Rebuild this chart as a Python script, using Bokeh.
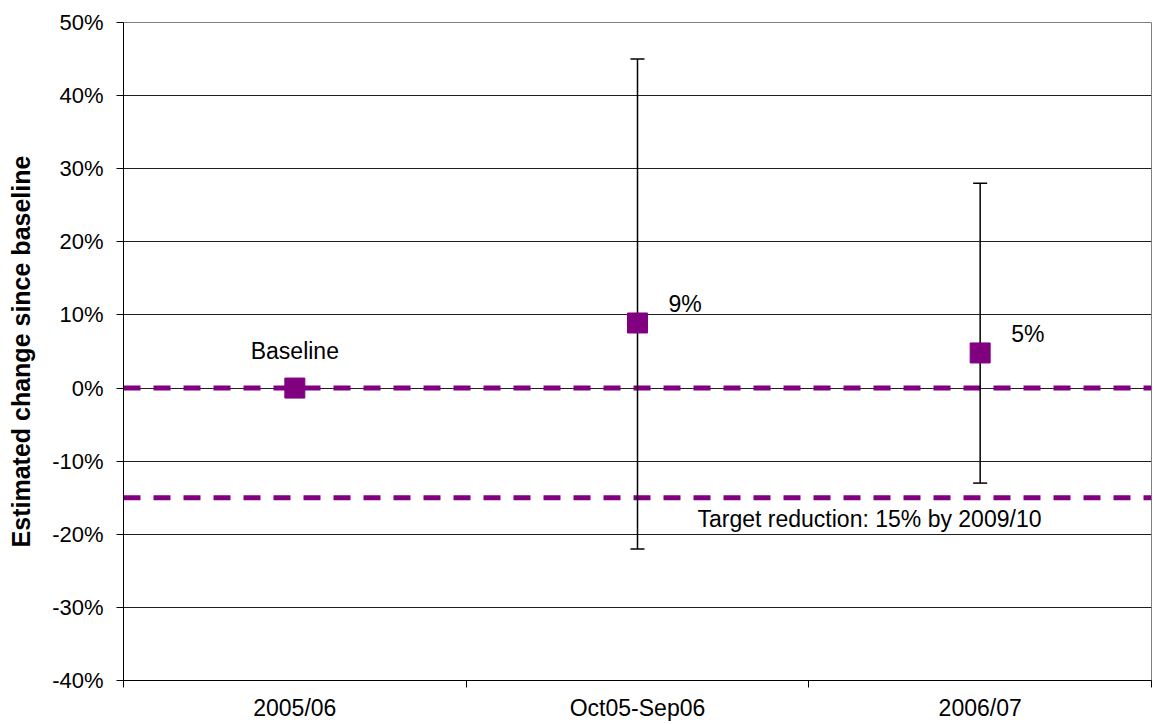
from bokeh.plotting import figure
from bokeh.models import Range1d, FixedTicker, Span, Whisker, ColumnDataSource, TeeHead
from bokeh.core.properties import value
from bokeh.embed import file_html
from bokeh.resources import INLINE

# ---- data ----
categories = ["2005/06", "Oct05-Sep06", "2006/07"]
estimates = [0.0, 8.9, 4.8]
point_labels = ["Baseline", "9%", "5%"]
err_categories = ["Oct05-Sep06", "2006/07"]
err_upper = [45.0, 28.0]
err_lower = [-22.0, -13.0]
target_value = -15.0
target_label = "Target reduction: 15% by 2009/10"
y_ticks = [-40, -30, -20, -10, 0, 10, 20, 30, 40, 50]

PURPLE = "#800080"
FONT = "Liberation Sans"

xpos = [i + 0.5 for i in range(len(categories))]
err_x = [categories.index(c) + 0.5 for c in err_categories]

p = figure(width=1153, height=724, output_backend="svg", toolbar_location=None,
           x_range=Range1d(0, len(categories)), y_range=Range1d(y_ticks[0], y_ticks[-1]),
           min_border_left=123, min_border_right=2, min_border_top=22, min_border_bottom=44)
p.background_fill_color = "white"
p.border_fill_color = "white"
p.outline_line_color = "#808080"
p.outline_line_width = 1

# grid
p.xgrid.visible = False
p.ygrid.grid_line_color = "#202020"
p.ygrid.grid_line_width = 1
p.ygrid.ticker = FixedTicker(ticks=y_ticks)

# y axis
p.yaxis.ticker = FixedTicker(ticks=y_ticks)
p.yaxis.major_label_overrides = {t: f"{t}%" for t in y_ticks}
p.yaxis.major_label_text_font = FONT
p.yaxis.major_label_text_font_size = "22px"
p.yaxis.major_label_text_color = "black"
p.yaxis.major_tick_out = 7
p.yaxis.major_tick_in = 0
p.yaxis.minor_tick_line_color = None
p.yaxis.axis_line_color = "black"
p.yaxis.major_tick_line_color = "black"
p.yaxis.major_label_standoff = 13
p.yaxis.axis_label = "Estimated change since baseline"
p.yaxis.axis_label_text_font = FONT
p.yaxis.axis_label_text_font_style = "bold"
p.yaxis.axis_label_text_font_size = "25px"
p.yaxis.axis_label_text_color = "black"
p.yaxis.axis_label_standoff = 14

# x axis: labels at category centres, tick marks at boundaries
p.xaxis.ticker = FixedTicker(ticks=xpos, minor_ticks=list(range(len(categories) + 1)))
p.xaxis.major_label_overrides = {x: c for x, c in zip(xpos, categories)}
p.xaxis.major_label_text_font = FONT
p.xaxis.major_label_text_font_size = "23px"
p.xaxis.major_label_text_color = "black"
p.xaxis.major_tick_line_color = None
p.xaxis.major_tick_out = 0
p.xaxis.major_tick_in = 0
p.xaxis.minor_tick_line_color = "black"
p.xaxis.minor_tick_out = 7
p.xaxis.minor_tick_in = 0
p.xaxis.major_label_standoff = 7
p.xaxis.axis_line_color = "black"

# dashed reference lines
for loc in (0.0, target_value):
    s = Span(location=loc, dimension="width", line_color=PURPLE, line_width=5,
             line_dash="17 13", level="underlay")
    p.add_layout(s)

# error bars
esrc = ColumnDataSource(dict(x=err_x, upper=err_upper, lower=err_lower))
w = Whisker(source=esrc, base="x", upper="upper", lower="lower", dimension="height",
            line_color="black", line_width=1.5,
            upper_head=TeeHead(size=14, line_color="black", line_width=1.5),
            lower_head=TeeHead(size=14, line_color="black", line_width=1.5))
p.add_layout(w)

# points
p.scatter(xpos, estimates, marker="square", size=20, fill_color=PURPLE, line_color=PURPLE)

# point labels
p.text(x=[xpos[0]], y=[estimates[0]], text=[point_labels[0]], text_font=value(FONT),
       text_font_size="23px", text_align="center", text_baseline="middle",
       y_offset=-37, text_color="black")
p.text(x=xpos[1:], y=estimates[1:], text=point_labels[1:], text_font=value(FONT),
       text_font_size="23px", text_align="left", text_baseline="middle",
       x_offset=31, y_offset=-19, text_color="black")

# target label
p.text(x=[2.177], y=[target_value], text=[target_label], text_font=value(FONT),
       text_font_size="23px", text_align="center", text_baseline="middle",
       y_offset=21, text_color="black")

open("out.html", "w").write(file_html(p, INLINE))
